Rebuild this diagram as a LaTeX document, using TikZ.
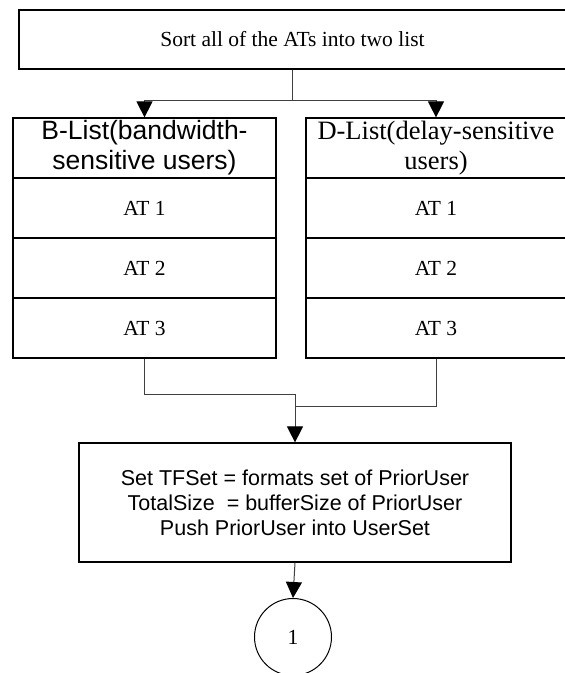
\documentclass[tikz,border=0pt]{standalone}
\usepackage{fontspec}
\setmainfont{Liberation Serif}
\newfontfamily\arialfont{Liberation Sans}
\usetikzlibrary{arrows.meta}

\tikzset{
  box/.style={draw=black, line width=1.2pt, rectangle, inner sep=0pt, align=center},
  rowbox/.style={box, minimum height=60pt, font=\fontsize{21.5}{25}\selectfont},
  headbox/.style={box, minimum height=60pt},
  link/.style={draw=black!75, line width=1pt},
  arrowlink/.style={link, -{Triangle[length=16pt,width=16pt,color=black]}},
}

\begin{document}
\begin{tikzpicture}[x=1pt, y=-1pt]
\useasboundingbox (0,0) rectangle (565,673);

% first step
\node[box, minimum width=547pt, minimum height=59pt,
      font=\fontsize{21.5}{25}\selectfont] (sort) at (292.5,39.5)
  {Sort all of the ATs into two list};

% bandwidth-sensitive list
\node[headbox, minimum width=263pt, font=\arialfont\fontsize{26.5}{30}\selectfont]
  (blhead) at (144.5,148) {B-List(bandwidth-\\sensitive users)};
\node[rowbox, minimum width=263pt] (bl1) at (144.5,208) {AT 1};
\node[rowbox, minimum width=263pt] (bl2) at (144.5,268) {AT 2};
\node[rowbox, minimum width=263pt] (bl3) at (144.5,328) {AT 3};

% delay-sensitive list
\node[headbox, minimum width=260pt, font=\fontsize{26.5}{30}\selectfont]
  (dlhead) at (436,148) {D-List(delay-sensitive\\users)};
\node[rowbox, minimum width=260pt] (dl1) at (436,208) {AT 1};
\node[rowbox, minimum width=260pt] (dl2) at (436,268) {AT 2};
\node[rowbox, minimum width=260pt] (dl3) at (436,328) {AT 3};

% initialisation step
\node[box, minimum width=432pt, minimum height=119pt,
      font=\arialfont\fontsize{21.5}{25}\selectfont] (init) at (295,502.5)
  {Set TFSet = formats set of PriorUser\\
   TotalSize\ \ = bufferSize of PriorUser\\
   Push PriorUser into UserSet};

% off-page connector
\node[draw=black, line width=1pt, circle, minimum size=77pt, inner sep=0pt,
      font=\fontsize{21.5}{25}\selectfont] (conn) at (293,637) {1};

% connectors
\coordinate (fork) at (sort.south |- 0,100);
\draw[link] (sort.south) -- (fork);
\draw[arrowlink] (fork) -| (blhead.north);
\draw[arrowlink] (fork) -| (dlhead.north);

\coordinate (joinb) at (init.north |- 0,394);
\coordinate (joind) at (init.north |- 0,406);
\draw[link] (bl3.south) |- (joinb);
\draw[link] (dl3.south) |- (joind);
\draw[arrowlink] (joinb) -- (init.north);

\draw[arrowlink] (init.south) -- (conn.north);
\end{tikzpicture}
\end{document}
